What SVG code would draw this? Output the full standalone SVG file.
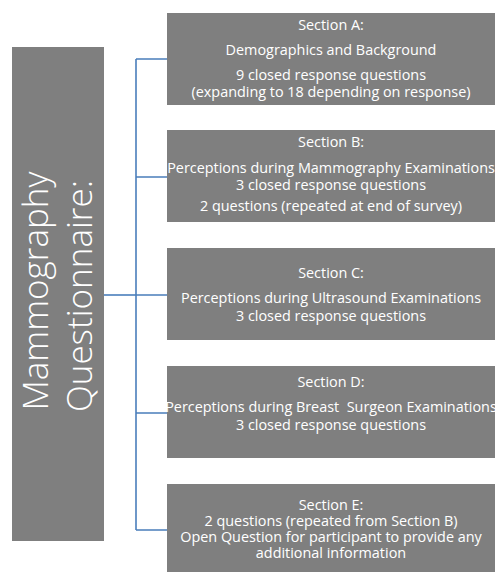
<svg xmlns="http://www.w3.org/2000/svg" width="495" height="572" viewBox="0 0 495 572">
<style>
.box{fill:#7f7f7f;}
.t{font-family:"Open Sans","Liberation Sans",sans-serif;font-size:14.4px;fill:#ffffff;text-anchor:middle;white-space:pre;}
.title{font-family:"Open Sans","Liberation Sans",sans-serif;font-size:35px;font-weight:300;fill:#ffffff;text-anchor:middle;}
.c{stroke:#4a7ebb;stroke-width:1.6;fill:none;}
</style>
<rect width="495" height="572" fill="#ffffff"/>
<g id="connectors">
<path class="c" d="M136 59 V530"/>
<path class="c" d="M136 59 H167 M136 177 H167 M136 295 H167 M136 413 H167 M136 530 H167"/>
<path class="c" d="M104 295 H136"/>
</g>
<g id="title">
<rect class="box" x="12" y="47" width="92" height="494"/>
<text class="title" transform="translate(0,291) rotate(-90)" x="0" y="48">Mammography</text>
<text class="title" transform="translate(0,296) rotate(-90)" x="0" y="92">Questionnaire:</text>
</g>
<g id="sectionA">
<rect class="box" x="167" y="13" width="328" height="92"/>
<text class="t" x="331" y="30">Section A:</text>
<text class="t" x="331" y="55">Demographics and Background</text>
<text class="t" x="331" y="80">9 closed response questions</text>
<text class="t" x="331" y="97">(expanding to 18 depending on response)</text>
</g>
<g id="sectionB">
<rect class="box" x="167" y="130" width="328" height="92"/>
<text class="t" x="331" y="147">Section B:</text>
<text class="t" x="331" y="173">Perceptions during Mammography Examinations</text>
<text class="t" x="331" y="190">3 closed response questions</text>
<text class="t" x="331" y="211">2 questions (repeated at end of survey)</text>
</g>
<g id="sectionC">
<rect class="box" x="167" y="248" width="328" height="92"/>
<text class="t" x="331" y="278">Section C:</text>
<text class="t" x="331" y="303">Perceptions during Ultrasound Examinations</text>
<text class="t" x="331" y="321">3 closed response questions</text>
</g>
<g id="sectionD">
<rect class="box" x="167" y="366" width="328" height="92"/>
<text class="t" x="331" y="387">Section D:</text>
<text class="t" x="331" y="412">Perceptions during Breast  Surgeon Examinations</text>
<text class="t" x="331" y="430">3 closed response questions</text>
</g>
<g id="sectionE">
<rect class="box" x="167" y="484" width="328" height="88"/>
<text class="t" x="331" y="510">Section E:</text>
<text class="t" x="331" y="526">2 questions (repeated from Section B)</text>
<text class="t" x="331" y="542">Open Question for participant to provide any</text>
<text class="t" x="331" y="558">additional information</text>
</g>
</svg>
